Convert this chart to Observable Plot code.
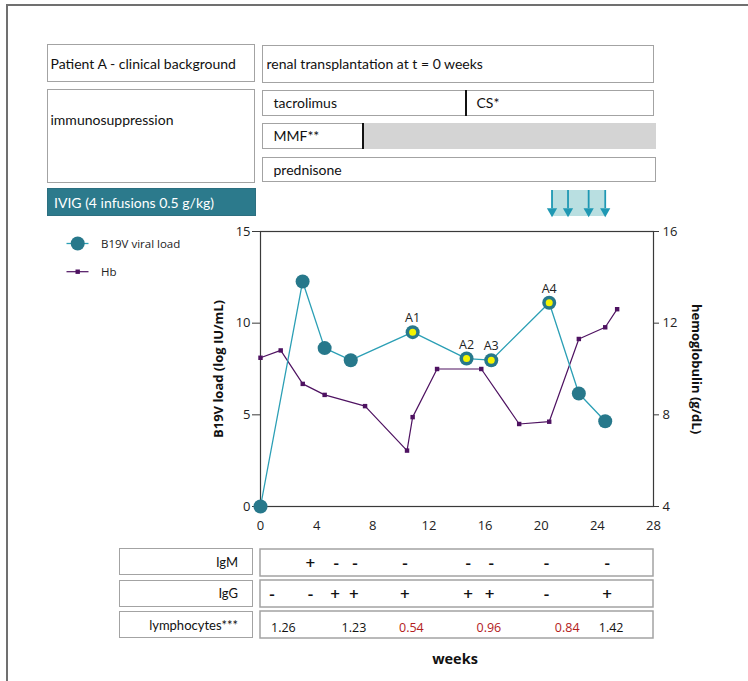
<!DOCTYPE html>
<html><head><meta charset="utf-8">
<script src="https://cdn.jsdelivr.net/npm/d3@7"></script>
<script src="https://cdn.jsdelivr.net/npm/@observablehq/plot@0.6"></script>
<style>
body{margin:0;background:#fff;}
#root{position:relative;width:748px;height:681px;overflow:hidden;font-family:Lato,"Open Sans",sans-serif;color:#111;}
.frameL{position:absolute;left:6px;top:4px;width:2px;bottom:0;background:#707070;}
.frameT{position:absolute;left:6px;top:4px;right:0;height:2px;background:#707070;}
.box{position:absolute;box-sizing:border-box;border:1.5px solid #a3a3a3;background:#fff;display:flex;align-items:center;font-size:14px;white-space:nowrap;}
.abs{position:absolute;}
</style></head><body><div id="root"></div>
<script>
// ---------- data ----------
const vlWeeks  = [0, 3.0, 4.57, 6.43, 10.84, 14.68, 16.44, 20.57, 22.68, 24.56];
const vlLoad   = [0, 12.27, 8.64, 7.98, 9.51, 8.07, 7.98, 11.11, 6.16, 4.65];
const vlLabels = ["", "", "", "", "A1", "A2", "A3", "A4", "", ""];
const hbWeeks  = [0, 1.44, 3.01, 4.57, 7.45, 10.44, 10.84, 12.58, 15.73, 18.43, 20.57, 22.68, 24.56, 25.41];
const hbValues = [10.49, 10.81, 9.35, 8.87, 8.38, 6.44, 7.9, 10.0, 10.0, 7.6, 7.7, 11.31, 11.82, 12.61];
const ivigWeeks = [20.77, 21.91, 23.38, 24.56];
const xTicks = [0, 4, 8, 12, 16, 20, 24, 28];
const vlTicks = [0, 5, 10, 15];
const hbTicks = [4, 8, 12, 16];
const tableRows = ["IgM", "IgG", "lymphocytes***"];
const igmWeeks = [3.56, 5.39, 6.73, 10.29, 14.8, 16.44, 20.38, 24.7];
const igmSigns = ["+", "-", "-", "-", "-", "-", "-", "-"];
const iggWeeks = [0.81, 3.56, 5.31, 6.66, 10.29, 14.8, 16.32, 20.38, 24.7];
const iggSigns = ["-", "-", "+", "+", "+", "+", "+", "-", "+"];
const lymWeeks = [1.63, 6.66, 10.75, 16.27, 21.85, 24.98];
const lymValues = [1.26, 1.23, 0.54, 0.96, 0.84, 1.42];

const teal = "#27788b", tealLine = "#2b9fb5", purple = "#4e1261", red = "#b3201c";
const vlDomain = [0, 15], hbDomain = [4, 16], xDomain = [0, 28];
const toY = h => (h - hbDomain[0]) * (vlDomain[1] - vlDomain[0]) / (hbDomain[1] - hbDomain[0]) + vlDomain[0];
const fromY = y => (y - vlDomain[0]) * (hbDomain[1] - hbDomain[0]) / (vlDomain[1] - vlDomain[0]) + hbDomain[0];

const vl = vlWeeks.map((w, i) => ({week: w, load: vlLoad[i], label: vlLabels[i]}));
const hb = hbWeeks.map((w, i) => ({week: w, hb: hbValues[i], y: toY(hbValues[i])}));
const root = document.getElementById("root");

function add(html){ root.insertAdjacentHTML("beforeend", html); }
add('<div class="frameL"></div><div class="frameT"></div>');
// header boxes
add('<div class="box" style="left:46.5px;top:44px;width:208px;height:38px;padding-left:3px">Patient A - clinical background</div>');
add('<div class="box" style="left:261.5px;top:44.5px;width:392.5px;height:38px;padding-left:4px">renal transplantation at t = 0 weeks</div>');
add('<div class="box" style="left:46.5px;top:89px;width:208px;height:93.5px;padding-left:3px;align-items:flex-start;padding-top:21px">immunosuppression</div>');
add('<div class="box" style="left:261.5px;top:90px;width:392.5px;height:25.5px;padding-left:11px">tacrolimus<div class="abs" style="left:202px;top:-1px;bottom:-1px;width:2px;background:#111"></div><span class="abs" style="left:214px">CS*</span></div>');
add('<div class="box" style="left:261.5px;top:123px;width:394px;height:25.5px;padding-left:11px">MMF**<div class="abs" style="left:99px;top:-1px;bottom:-1px;right:-1px;background:#d4d4d4;border-left:2px solid #111"></div></div>');
add('<div class="box" style="left:261.5px;top:156.5px;width:394px;height:25.5px;padding-left:11px">prednisone</div>');
add('<div class="box" style="left:47px;top:188px;width:209px;height:28px;padding-left:6px;background:#2c7a8c;border-color:#2c6f80;color:#fff">IVIG (4 infusions 0.5 g/kg)</div>');

// legend
add(`<svg class="abs" style="left:0;top:228px" width="200" height="60" font-family="Open Sans" font-size="11.5">
<line x1="66.5" x2="88.5" y1="15.5" y2="15.5" stroke="${tealLine}" stroke-width="1.3"/><circle cx="77.7" cy="15.5" r="7" fill="${teal}"/>
<text x="101" y="19.5" fill="#222">B19V viral load</text>
<line x1="66.5" x2="88.5" y1="43.7" y2="43.7" stroke="${purple}" stroke-width="1.2"/><rect x="75.5" y="41.5" width="4.4" height="4.4" fill="${purple}"/>
<text x="101" y="47.7" fill="#222">Hb</text></svg>`);

const common = {width: 748, marginLeft: 260, marginRight: 95};
const style = {background: "transparent", fontFamily: "Open Sans", fontSize: "13px", color: "#222", overflow: "visible"};

// IVIG arrows
const arrows = Plot.plot({
  ...common, height: 32, marginTop: 4, marginBottom: 2, style,
  x: {domain: xDomain, axis: null}, y: {domain: [0, 1], axis: null},
  marks: [
    Plot.rect([ivigWeeks], {x1: d => d3.min(d), x2: d => d3.max(d), y1: () => 0, y2: () => 1, fill: "#b9dfe1"}),
    Plot.ruleX(ivigWeeks, {x: d => d, y1: 1, y2: 0.3, stroke: "#1e98b3", strokeWidth: 1.8}),
    Plot.dot(ivigWeeks, {x: d => d, y: 0.2, symbol: "triangle", rotate: 180, r: 3.8, fill: "#1e98b3"})
  ]
});
arrows.style.cssText += ";position:absolute;left:0;top:186px";
root.appendChild(arrows);

// main chart
const chart = Plot.plot({
  ...common, height: 325, marginTop: 11, marginBottom: 39, style,
  x: {domain: xDomain},
  y: {domain: vlDomain},
  marks: [
    Plot.frame({stroke: "#3a3a3a", strokeWidth: 1.2}),
    Plot.axisX({ticks: xTicks, tickSize: 0, tickPadding: 14, label: null}),
    Plot.axisY({ticks: vlTicks, tickSize: 8, tickPadding: 2, label: null, stroke: "#3a3a3a"}),
    Plot.axisY(hbTicks.map(toY), {anchor: "right", tickSize: 5, tickPadding: 4, tickFormat: d => Math.round(fromY(d)), label: null, stroke: "#3a3a3a"}),
    Plot.line(hb, {x: "week", y: "y", stroke: purple, strokeWidth: 1.2}),
    Plot.dot(hb, {x: "week", y: "y", symbol: "square", r: 2.5, fill: purple}),
    Plot.line(vl, {x: "week", y: "load", stroke: tealLine, strokeWidth: 1.3}),
    Plot.dot(vl, {x: "week", y: "load", r: 7, fill: teal}),
    Plot.dot(vl.filter(d => d.label), {x: "week", y: "load", r: 3.5, fill: "#f4f400"}),
    Plot.text(vl.filter(d => d.label), {x: "week", y: "load", text: "label", dy: -14, fontSize: 12.5, fill: "#222"}),
    Plot.text(["B19V load (log IU/mL)"], {text: d => d, frameAnchor: "left", textAnchor: "middle", dx: -42, rotate: -90, fontWeight: "bold", fontSize: 13, fill: "#111"}),
    Plot.text(["hemoglobulin (g/dL)"], {text: d => d, frameAnchor: "right", textAnchor: "middle", dx: 43, rotate: 90, fontWeight: "bold", fontSize: 13, fill: "#111"})
  ]
});
chart.style.cssText += ";position:absolute;left:0;top:220px";
root.appendChild(chart);

// table
const rowTops = [548, 579.5, 611];
tableRows.forEach((r, i) => add(`<div class="box" style="left:119px;top:${rowTops[i]}px;width:134px;height:27px;justify-content:flex-end;padding-right:14px;font-size:13px">${r}</div>`));
const igm = igmWeeks.map((w, i) => ({week: w, v: igmSigns[i], row: "IgM"}));
const igg = iggWeeks.map((w, i) => ({week: w, v: iggSigns[i], row: "IgG"}));
const lym = lymWeeks.map((w, i) => ({week: w, v: lymValues[i], row: "lymphocytes***"}));
const table = Plot.plot({
  ...common, height: 100, marginTop: 8, marginBottom: 2, style,
  x: {domain: xDomain, axis: null},
  y: {domain: tableRows, axis: null, paddingInner: 0.143, paddingOuter: 0},
  color: {type: "identity"},
  marks: [
    Plot.barX(tableRows, {x1: xDomain[0], x2: xDomain[1], y: d => d, fill: "white", stroke: "#a3a3a3", strokeWidth: 1.5}),
    Plot.text([...igm, ...igg], {x: "week", y: "row", text: "v", dy: 1, fontSize: 17, fontWeight: 600, fill: "#111"}),
    Plot.text(lym, {x: "week", y: "row", text: d => d.v.toFixed(2), dy: 3, fontSize: 12.5, fill: d => d.v < 1 ? red : "#111"})
  ]
});
table.style.cssText += ";position:absolute;left:0;top:540px";
root.appendChild(table);

add('<div class="abs" style="left:405px;width:100px;top:649px;text-align:center;font-family:\'Open Sans\';font-weight:bold;font-size:14.5px">weeks</div>');
</script></body></html>
